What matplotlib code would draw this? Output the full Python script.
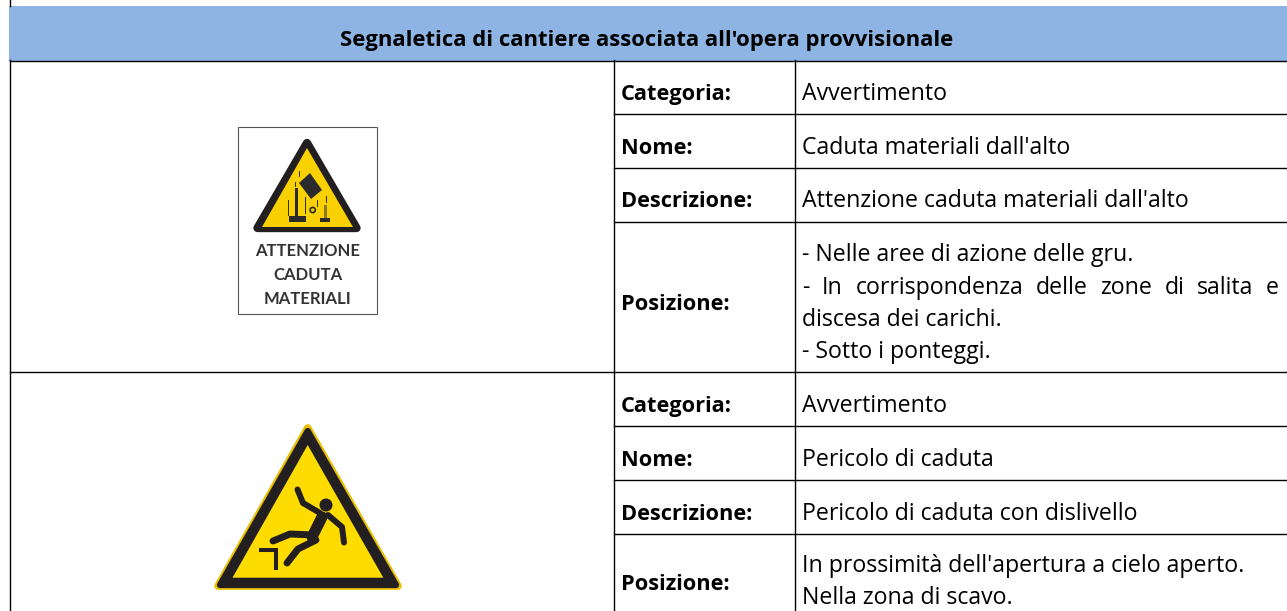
import matplotlib.pyplot as plt
from matplotlib.patches import Polygon, Rectangle, Circle

W, H = 1287, 611

# table content
header = "Segnaletica di cantiere associata all'opera provvisionale"
labels = ["Categoria:", "Nome:", "Descrizione:", "Posizione:"]
values_1 = ["Avvertimento", "Caduta materiali dall'alto", "Attenzione caduta materiali dall'alto"]
pos_1 = ["- Nelle aree di azione delle gru.", "- In corrispondenza delle zone di salita e",
         "discesa dei carichi.", "- Sotto i ponteggi."]
values_2 = ["Avvertimento", "Pericolo di caduta", "Pericolo di caduta con dislivello"]
pos_2 = ["In prossimità dell'apertura a cielo aperto.", "Nella zona di scavo."]
sign_text = ["ATTENZIONE", "CADUTA", "MATERIALI"]

# grid and text baselines, in pixels
col_x = [9.5, 614, 795]
rows = [60.5, 113.5, 167.5, 221.5, 372, 425.5, 479.5, 533.5]
label_base_1 = [100, 154, 207, 310]
label_base_2 = [412, 466, 520, 590]
pos_base_1 = [261, 293.5, 326, 358.5]
pos_base_2 = [572, 604.5]
sign_base = [256.5, 280, 303.5]

plt.rcParams["font.family"] = ["Open Sans", "DejaVu Sans"]

fig = plt.figure(figsize=(W / 100, H / 100), dpi=100)
ax = fig.add_axes([0, 0, 1, 1])
ax.set_xlim(0, W)
ax.set_ylim(H, 0)
ax.axis("off")

LW = 1.0
YELLOW = "#FFDC00"
DARK = "#231F20"
BODY = 16.7
BOLD = 15.7

# header band
ax.add_patch(Rectangle((9, 6), W - 9, 54.5, color="#8DB4E2", lw=0))
ax.text(647, 46, header, ha="center", va="baseline", fontsize=15.8, fontweight="bold", color="black")

# grid lines
ax.plot([col_x[0], col_x[0]], [0, 6], color="black", lw=LW)
ax.plot([col_x[0], col_x[0]], [60, H], color="black", lw=LW)
for y in rows:
    x0 = col_x[0] if y in (rows[0], rows[4]) else col_x[1]
    ax.plot([x0, W], [y, y], color="black", lw=LW)
for x in col_x[1:]:
    ax.plot([x, x], [60, H], color="black", lw=LW)


def justified(line, y, x0, x1):
    # spread the words of a line so it fills x0..x1
    words = line.split(" ")
    texts = [ax.text(x0, y, w, ha="left", va="baseline", fontsize=BODY) for w in words]
    r = fig.canvas.get_renderer()
    widths = [t.get_window_extent(r).width for t in texts]
    gap = (x1 - x0 - sum(widths)) / (len(words) - 1)
    x = x0
    for t, w in zip(texts, widths):
        t.set_x(x)
        x += w + gap


def fill_rows(values, pos, label_base, pos_base, justify=None):
    for lab, y in zip(labels, label_base):
        ax.text(621, y, lab, ha="left", va="baseline", fontsize=BOLD, fontweight="bold")
    for val, y in zip(values, label_base):
        ax.text(802, y, val, ha="left", va="baseline", fontsize=BODY)
    for i, (line, y) in enumerate(zip(pos, pos_base)):
        if i == justify:
            justified(line, y, 802, 1279)
        else:
            ax.text(802, y, line, ha="left", va="baseline", fontsize=BODY)


fill_rows(values_1, pos_1, label_base_1, pos_base_1, justify=1)
fill_rows(values_2, pos_2, label_base_2, pos_base_2)

# first sign: panel and triangle
ax.add_patch(Rectangle((238, 126.5), 138.5, 187.5, fc="white", ec="#555555", lw=0.8))
ax.add_patch(Polygon([(307, 143), (257.5, 228), (356.5, 228)], fc=DARK, ec=DARK, lw=6, joinstyle="round"))
ax.add_patch(Polygon([(307, 148), (262, 227), (353, 227)], fc="#F9D000", lw=0))
ax.add_patch(Polygon([(310, 173), (322, 190), (311, 199), (299, 183)], color="#2B2B2B", lw=0))
ax.add_patch(Rectangle((294.7, 188), 3.6, 29, color="#2B2B2B", lw=0))
ax.add_patch(Rectangle((289, 216), 17, 6, color="#2B2B2B", lw=0))
ax.add_patch(Circle((312.7, 210), 2.6, fc="none", ec="#2B2B2B", lw=1.2))
ax.add_patch(Rectangle((324, 205), 3, 16, color="#8A7A20", lw=0))
ax.add_patch(Rectangle((320, 218), 10, 4, color="#2B2B2B", lw=0))
for x, y0, y1 in [(299, 171, 176), (295, 182, 186), (288, 200, 215), (305, 197, 213), (317, 200, 206), (326, 196, 202)]:
    ax.plot([x, x], [y0, y1], color="#2B2B2B", lw=0.7)
for t, y in zip(sign_text, sign_base):
    ax.text(307.5, y, t, ha="center", va="baseline", fontsize=12, fontweight="bold",
            family=["Lato", "DejaVu Sans"], color="#333333")

# second sign: triangle
ax.add_patch(Polygon([(307.7, 428), (218, 586), (398, 586)], fc=YELLOW, ec="#E8C000", lw=5.5, joinstyle="round"))
ax.add_patch(Polygon([(307.7, 431), (220, 585), (396, 585)], fc=DARK, ec=DARK, lw=4.5, joinstyle="round"))
ax.add_patch(Polygon([(307.7, 445), (232.5, 577.7), (383.3, 577.7)], fc=YELLOW, lw=0))

# falling figure
ax.add_patch(Circle((326, 505), 6.5, color=DARK, lw=0))
limbs = [
    ([297.5, 303, 320], [489.5, 503, 513], 4.3),
    ([322, 312], [517, 537], 8.0),
    ([328, 342, 344], [515, 527, 542.5], 4.3),
    ([313, 290, 273], [535, 534, 541], 5.0),
    ([316, 298, 287], [540, 549, 563], 5.0),
]
for xs, ys, w in limbs:
    ax.plot(xs, ys, color=DARK, lw=w, solid_capstyle="round", solid_joinstyle="round")
ax.plot([259, 276, 276], [549.5, 549.5, 569.5], color=DARK, lw=2.9, solid_joinstyle="miter", solid_capstyle="butt")

fig.savefig("out.png", dpi=100)
